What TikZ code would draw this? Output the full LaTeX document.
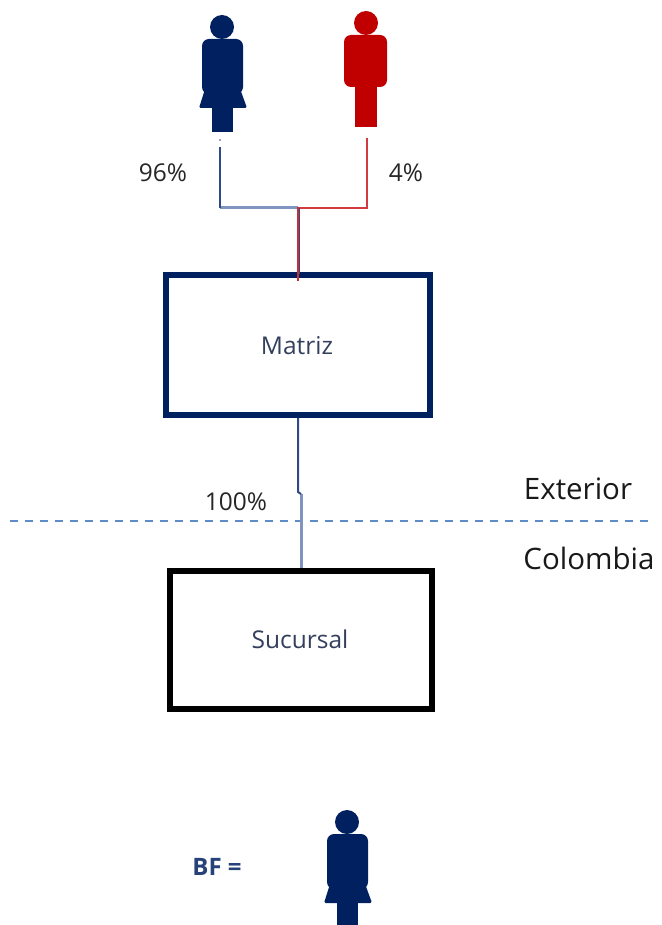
\documentclass[tikz,border=0pt]{standalone}
\usepackage{fontspec}
\setmainfont{Open Sans}
\definecolor{navy}{HTML}{002060}
\definecolor{wine}{HTML}{C00000}
\definecolor{lblue}{HTML}{5F8CC8}
\definecolor{linkblue}{HTML}{2F4A85}
\definecolor{softblue}{HTML}{7F95BF}
\definecolor{linkred}{HTML}{D03A40}
\definecolor{softtext}{HTML}{333F5C}
\tikzset{
  woman/.pic={
    \fill[navy] (0,-15) circle (12);
    \fill[navy,rounded corners=7] (-20,-3) rectangle (21,52);
    \fill[navy,rounded corners=1.5] (-16,44) -- (17,44) -- (25,66) -- (-23,66) -- cycle;
    \fill[navy] (-10,60) rectangle (11,90);
  },
  man/.pic={
    \fill[wine] (0,-15) circle (12);
    \fill[wine,rounded corners=7] (-22,-3) rectangle (21,49);
    \fill[wine] (-11,40) rectangle (11,89);
  },
  holderbox/.style={draw=navy,line width=5.5pt,minimum width=264pt,minimum height=140pt,inner sep=0pt},
  branchbox/.style={draw=black,line width=5.5pt,minimum width=262pt,minimum height=138pt,inner sep=0pt},
  biglabel/.style={font=\fontsize{29.5}{34}\selectfont,text=black!90,inner sep=0pt},
  pct/.style={font=\fontsize{24.5}{28}\selectfont,text=black!85,inner sep=0pt},
  boxlabel/.style={font=\fontsize{24.5}{28}\selectfont,text=softtext,inner sep=0pt},
  blink/.style={draw=linkblue,line width=2pt},
  slink/.style={draw=softblue,line width=3pt},
  rlink/.style={draw=linkred,line width=2pt},
}
\begin{document}
\begin{tikzpicture}[x=1pt,y=-1pt]
\useasboundingbox (0,0) rectangle (661,925);
\clip (0,0) rectangle (661,925);
\pic at (222,42) {woman};
\pic at (366,38) {man};
\pic at (347,837) {woman};
\node[holderbox] (matriz) at (298,345) {};
\node[boxlabel] (matrizt) at (297,346) {Matriz};
\node[branchbox] (sucursal) at (301,640) {};
\node[boxlabel] (sucursalt) at (300,639) {Sucursal};
\coordinate (wdot) at (220,140);
\coordinate (w) at (220,147);
\coordinate (wc) at (220,208);
\coordinate (m) at (367,138);
\coordinate (j) at (298,208);
\coordinate (k1) at (298,492);
\coordinate (k2) at (301,494);
\coordinate (dl) at (10,521);
\coordinate (dr) at (648,521);
\draw[slink] (wc) -- (j);
\draw[blink] (w) -- (wc);
\draw[rlink] (m) |- (j);
\draw[draw=linkblue,line width=1.5pt] (299.5,208) -- (299.5,274);
\draw[draw=linkred!80!wine,line width=2pt] (298,207) -- (298,281);
\fill[linkblue] (wdot) circle (.8);
\draw[draw=lblue,line width=1.2pt,dash pattern=on 8pt off 7pt] (dl) -- (dr);
\draw[slink] (k2) -- (k2 |- sucursal.north);
\draw[blink] (matriz.south -| k1) -- (k1) -- (k2);
\node[pct] (p96) at (163,173) {96\%};
\node[pct] (p4) at (406,173) {4\%};
\node[pct] (p100) at (236,502) {100\%};
\node[biglabel] (ext) at (578,489) {Exterior};
\node[biglabel] (col) at (589,558) {Colombia};
\node[font=\fontsize{24}{28}\selectfont\bfseries,text=navy!85!white,inner sep=0pt] (bf) at (217,867) {BF =};
\end{tikzpicture}
\end{document}
